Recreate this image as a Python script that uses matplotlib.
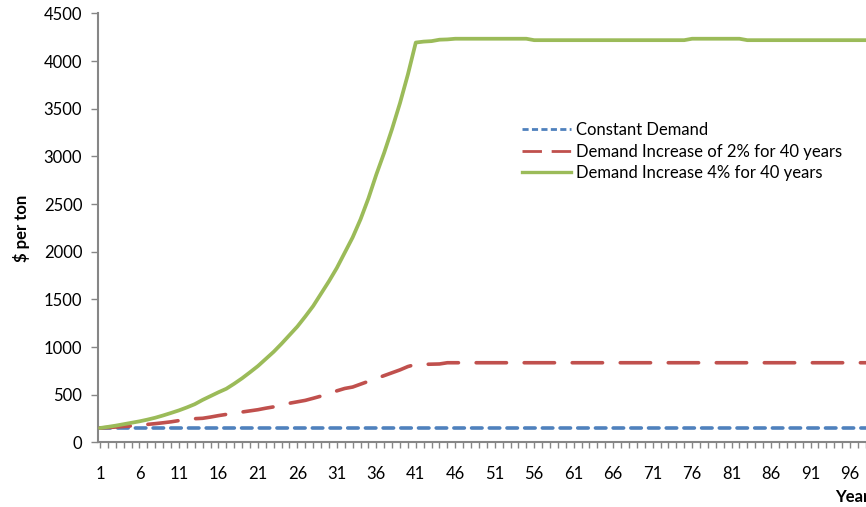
import matplotlib
matplotlib.use("Agg")
import matplotlib.pyplot as plt
from matplotlib.lines import Line2D
from matplotlib.ticker import MultipleLocator, FixedLocator

plt.rcParams['font.family'] = ['Lato', 'DejaVu Sans']

years = list(range(1, 101))

constant = [145] * 100

demand_2pct = [150, 155, 160, 166, 172, 180, 188, 196, 205, 215,
               228, 238, 248, 252, 265, 280, 293, 305, 318, 330,
               342, 358, 372, 390, 410, 425, 440, 462, 485, 510,
               540, 565, 580, 610, 640, 670, 700, 730, 760, 795,
               818, 818, 820, 822] + [835] * 56

demand_4pct = [150, 162, 175, 190, 205, 220, 238, 258, 282, 308,
               335, 366, 400, 445, 485, 525, 562, 615, 672, 735,
               800, 875, 950, 1035, 1125, 1215, 1320, 1430, 1560, 1690,
               1830, 1990, 2150, 2340, 2560, 2810, 3040, 3290, 3560, 3860,
               4195, 4205, 4210, 4225, 4228] \
    + [4235] * 10 + [4220] * 20 + [4235] * 7 + [4220] * 18

labels = ['Constant Demand',
          'Demand Increase of 2% for 40 years',
          'Demand Increase 4% for 40 years']

blue = '#4F81BD'
red = '#C0504D'
green = '#9BBB59'
axis_gray = '#868686'

fig = plt.figure(figsize=(8.66, 5.07), dpi=100)
ax = fig.add_axes([0.1126, 0.1276, 0.8874, 0.8458])

ax.plot(years, constant, color=blue, lw=2.6, dashes=(2.9, 2.0),
        dash_capstyle='round', zorder=3)
ax.plot(years, demand_2pct, color=red, lw=2.6, dashes=(8.4, 4.9),
        dash_capstyle='round', zorder=3)
ax.plot(years, demand_4pct, color=green, lw=2.7, solid_capstyle='round',
        zorder=4)

ax.set_xlim(0.683, 98.03)
ax.set_ylim(0, 4500)
ax.set_yticks(range(0, 4501, 500))
ax.xaxis.set_major_locator(FixedLocator(range(1, 101, 5)))
ax.xaxis.set_minor_locator(MultipleLocator(1))

for side in ('top', 'right'):
    ax.spines[side].set_visible(False)
for side in ('left', 'bottom'):
    ax.spines[side].set_color(axis_gray)
    ax.spines[side].set_linewidth(1.5)

ax.tick_params(axis='y', direction='out', length=5, width=1, color=axis_gray,
               labelsize=12, pad=6)
ax.tick_params(axis='x', which='both', direction='out', length=4, width=1,
               color=axis_gray, labelsize=12, pad=13)

ax.set_ylabel('$ per ton', fontsize=12, fontweight='bold', labelpad=10)
fig.text(0.964, 0.019, 'Year', fontsize=12, fontweight='bold',
         ha='left', va='center')

handles = [
    Line2D([], [], color=blue, lw=2, dashes=(2.2, 1.2)),
    Line2D([], [], color=red, lw=2, dashes=(7, 3.5)),
    Line2D([], [], color=green, lw=2.4),
]
ax.legend(handles, labels, loc='upper left', bbox_to_anchor=(0.603, 0.759),
          bbox_transform=fig.transFigure, frameon=False, fontsize=12,
          handlelength=2.9, handletextpad=0.3, labelspacing=0.32,
          borderpad=0, borderaxespad=0)

fig.savefig('out.png', dpi=100)
